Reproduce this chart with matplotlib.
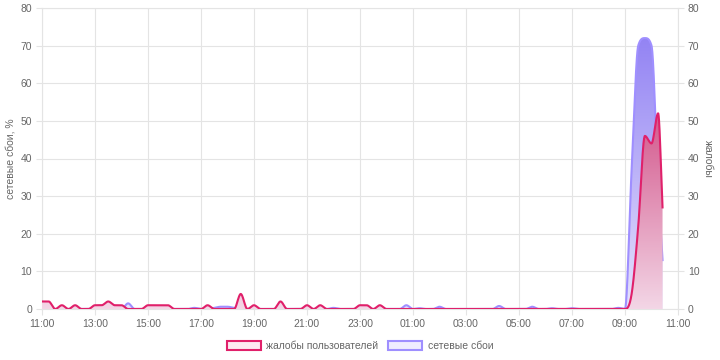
import numpy as np
import matplotlib
matplotlib.use('Agg')
import matplotlib.pyplot as plt
from matplotlib.colors import LinearSegmentedColormap
from matplotlib.patches import Patch

plt.rcParams['font.family'] = ['Liberation Sans', 'DejaVu Sans']

# часы от 11:00, шаг 15 минут, последняя точка 10:25
hours = list(np.arange(0, 23.5, 0.25)) + [23 + 25 / 60]

# жалобы пользователей (правая ось)
complaints = (
    [2, 2, 0, 1, 0, 1, 0, 0] +        # 11:00 - 12:45
    [1, 1, 2, 1, 1, 0, 0, 0] +        # 13:00 - 14:45
    [1, 1, 1, 1, 0, 0, 0, 0] +        # 15:00 - 16:45
    [0, 1, 0, 0, 0, 0, 4, 0] +        # 17:00 - 18:45
    [1, 0, 0, 0, 2, 0, 0, 0] +        # 19:00 - 20:45
    [1, 0, 1, 0, 0, 0, 0, 0] +        # 21:00 - 22:45
    [1, 1, 0, 1, 0, 0, 0, 0] +        # 23:00 - 00:45
    [0, 0, 0, 0, 0, 0, 0, 0] +        # 01:00 - 02:45
    [0, 0, 0, 0, 0, 0, 0, 0] +        # 03:00 - 04:45
    [0, 0, 0, 0, 0, 0, 0, 0] +        # 05:00 - 06:45
    [0, 0, 0, 0, 0, 0, 0, 0] +        # 07:00 - 08:45
    [0, 4, 22, 46, 44, 52, 27]        # 09:00 - 10:25
)

# сетевые сбои, % (левая ось)
outages = (
    [0, 0, 0, 0, 0, 0, 0, 0] +
    [0, 0, 0, 0, 0, 1.5, 0, 0] +
    [0, 0, 0, 0, 0, 0, 0, 0.3] +
    [0, 0, 0.3, 0.6, 0.6, 0.3, 0, 0] +
    [0, 0, 0, 0, 0, 0, 0, 0] +
    [0, 0, 0, 0, 0.3, 0, 0, 0] +
    [0, 0, 0, 0, 0, 0, 0, 1.0] +
    [0, 0.2, 0, 0, 0.6, 0, 0, 0] +
    [0, 0, 0, 0, 0, 0.8, 0, 0] +
    [0, 0, 0.6, 0, 0, 0.2, 0, 0] +
    [0.2, 0, 0, 0, 0, 0, 0, 0.3] +
    [0, 37, 70, 72, 70, 33, 13]
)

tick_labels = ['11:00', '13:00', '15:00', '17:00', '19:00', '21:00', '23:00',
               '01:00', '03:00', '05:00', '07:00', '09:00', '11:00']


def monotone(x, y, n=24):
    # монотонная кубическая интерполяция, как в Chart.js
    x = np.asarray(x, float)
    y = np.asarray(y, float)
    d = np.diff(y) / np.diff(x)
    m = np.zeros_like(y)
    m[0], m[-1] = d[0], d[-1]
    for i in range(1, len(y) - 1):
        m[i] = 0 if d[i - 1] * d[i] <= 0 else (d[i - 1] + d[i]) / 2
    for i in range(len(d)):
        if d[i] == 0:
            m[i] = m[i + 1] = 0
            continue
        a, b = m[i] / d[i], m[i + 1] / d[i]
        s = a * a + b * b
        if s > 9:
            t = 3 / np.sqrt(s)
            m[i] = t * a * d[i]
            m[i + 1] = t * b * d[i]
    xs, ys = [], []
    for i in range(len(d)):
        h = x[i + 1] - x[i]
        t = np.linspace(0, 1, n, endpoint=False)
        h00 = 2 * t**3 - 3 * t**2 + 1
        h10 = t**3 - 2 * t**2 + t
        h01 = -2 * t**3 + 3 * t**2
        h11 = t**3 - t**2
        xs.append(x[i] + t * h)
        ys.append(h00 * y[i] + h10 * h * m[i] + h01 * y[i + 1] + h11 * h * m[i + 1])
    xs.append([x[-1]])
    ys.append([y[-1]])
    return np.concatenate(xs), np.concatenate(ys)


def grad_fill(ax, xs, ys, c_bot, c_top, z):
    poly = ax.fill_between(xs, 0, ys, facecolor='none', edgecolor='none')
    cmap = LinearSegmentedColormap.from_list('g', [c_bot, c_top])
    img = ax.imshow(np.linspace(0, 1, 256).reshape(-1, 1), cmap=cmap, aspect='auto',
                    extent=[0, 24, 0, 80], origin='lower', zorder=z)
    img.set_clip_path(poly.get_paths()[0], transform=ax.transData)


fig = plt.figure(figsize=(7.2, 3.6), dpi=100)
ax = fig.add_axes([42 / 720, 1 - 309 / 360, 636 / 720, 301 / 360])

grid_c = '#e4e4e4'
text_c = '#666666'

xb, yb = monotone(hours, outages)
xr, yr = monotone(hours, complaints)

grad_fill(ax, xb, yb, '#e6e3fd', '#8a79f2', 2)
ax.plot(xb, yb, color='#9f8fff', lw=1.5, zorder=3)
grad_fill(ax, xr, yr, '#f3d6e6', '#c2145c', 4)
ax.plot(xr, yr, color='#e0206a', lw=1.5, zorder=5)

ax.set_xlim(0, 24)
ax.set_ylim(0, 80)
ax.set_xticks(range(0, 25, 2))
ax.set_xticklabels(tick_labels)
ax.set_yticks(range(0, 81, 10))
ax.grid(True, color=grid_c, lw=0.8)
ax.set_axisbelow(True)
for s in ax.spines.values():
    s.set_color(grid_c)
    s.set_linewidth(0.8)
ax.tick_params(length=4.5, color=grid_c, labelcolor=text_c, labelsize=7.5, pad=2.5, width=0.8)
ax.set_ylabel('сетевые сбои, %', color=text_c, fontsize=7.5, labelpad=4)

ax2 = ax.twinx()
ax2.set_ylim(0, 80)
ax2.set_yticks(range(0, 81, 10))
for s in ax2.spines.values():
    s.set_visible(False)
ax2.tick_params(length=4.5, color=grid_c, labelcolor=text_c, labelsize=7.5, pad=2.5, width=0.8)
ax2.set_ylabel('жалобы', color=text_c, fontsize=7.5, rotation=270, labelpad=10)

handles = [Patch(facecolor='#fde9f1', edgecolor='#e0206a', lw=1.5, label='жалобы пользователей'),
           Patch(facecolor='#efedff', edgecolor='#9f8fff', lw=1.5, label='сетевые сбои')]
leg = fig.legend(handles=handles, loc='center', bbox_to_anchor=(0.5, 1 - 346 / 360), ncol=2,
                 frameon=False, fontsize=7.5, handlelength=3.3, handleheight=1.0,
                 handletextpad=0.5, columnspacing=0.9)
for t in leg.get_texts():
    t.set_color(text_c)

fig.savefig('out.png', dpi=100)
